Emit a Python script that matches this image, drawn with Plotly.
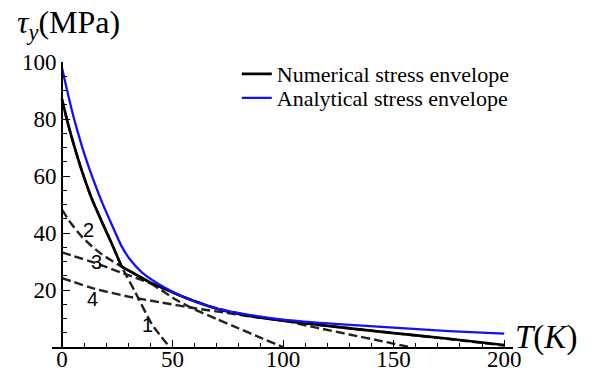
import plotly.graph_objects as go

# ---------------- data ----------------
T1 = [0, 2.5, 5, 7.5, 10, 13.5, 18, 22.5, 27, 33, 40.5, 45, 48.7]
tau1 = [87, 79, 72, 65.5, 59.5, 52, 44, 36.3, 28.2, 19.5, 8.2, 3.5, 0]

T2 = [0, 4, 8.9, 13, 17.9, 22.5, 27, 33, 40, 45, 52, 60, 70, 80, 90, 100]
tau2 = [48.2, 43.5, 38.8, 35.7, 32.6, 30.3, 28.2, 25.6, 22.4, 19.9, 16.4, 13.2, 9.8, 6.5, 3.2, 0]

T3 = [0, 15, 30, 45, 58, 70, 85, 100, 115, 130, 145, 157]
tau3 = [33.2, 29.5, 25.2, 20.9, 16.6, 13.6, 11.0, 9.3, 6.8, 4.4, 2.0, 0]

T4 = [0, 15, 30, 45, 60, 75, 90, 100, 125, 150, 175, 200]
tau4 = [24.2, 20.4, 17.7, 15.6, 13.6, 11.9, 10.2, 9.2, 7.0, 4.9, 2.8, 0.5]

T_num = [0, 2.5, 5, 7.5, 10, 13.5, 18, 22.5, 27, 33, 40, 45, 52, 58.6, 70, 80, 90, 100, 125, 150, 175, 200]
tau_num = [87, 79, 72, 65.5, 59.5, 52, 44, 36.3, 28.2, 25.6, 22.6, 20.9, 18.5, 16.5, 13.4, 11.6,
           10.3, 9.3, 7.0, 4.9, 2.9, 0.7]
kink_index = 8

T_ana = [0, 2.5, 5, 7.5, 10, 14.5, 18, 22.5, 27, 31, 36, 45, 56.5, 70, 80, 100, 125, 150, 175, 200]
tau_ana = [98, 89.5, 81.5, 74.5, 68, 58, 51, 43, 35.3, 30.5, 26.3, 21.5, 17.0, 13.5, 11.9, 9.6, 8.0,
           6.8, 5.6, 4.7]

line_labels = ["1", "2", "3", "4"]
label_T = [38.9, 12.0, 15.7, 13.7]
label_tau = [7.6, 40.9, 30.0, 17.0]

x_ticks = [0, 50, 100, 150, 200]
y_ticks = [20, 40, 60, 80, 100]

legend_names = ["Numerical stress envelope", "Analytical stress envelope"]

# ---------------- figure ----------------
X_RANGE = [-4.5, 204]
Y_RANGE = [0, 100]
SERIF = "Liberation Serif, Times New Roman, serif"
W, H = 592, 377
ML, MR, MT, MB = 52, 79, 62, 30
PW, PH = W - ML - MR, H - MT - MB


def px_to_paper(px, py):
    return (px - ML) / PW, (H - MB - py) / PH


fig = go.Figure()

dash_style = dict(color="#222222", width=2.4, dash="9px,4px", shape="spline", smoothing=0.6)
for Tx, ty in [(T1, tau1), (T2, tau2), (T3, tau3), (T4, tau4)]:
    fig.add_trace(go.Scatter(x=Tx, y=ty, mode="lines", line=dash_style,
                             showlegend=False, hoverinfo="skip"))

# numerical envelope (two smooth pieces joined at the kink)
fig.add_trace(go.Scatter(x=T_num[:kink_index + 1], y=tau_num[:kink_index + 1], mode="lines",
                         line=dict(color="black", width=2.7, shape="spline", smoothing=0.6),
                         name=legend_names[0], legend="legend"))
fig.add_trace(go.Scatter(x=T_num[kink_index:], y=tau_num[kink_index:], mode="lines",
                         line=dict(color="black", width=2.7, shape="spline", smoothing=0.6),
                         showlegend=False))
fig.add_trace(go.Scatter(x=T_ana, y=tau_ana, mode="lines",
                         line=dict(color="#1010ff", width=2.3, shape="spline", smoothing=0.6),
                         name=legend_names[1], legend="legend2"))

for lab, tx, ty in zip(line_labels, label_T, label_tau):
    fig.add_annotation(x=tx, y=ty, text=lab, showarrow=False,
                       font=dict(family="Liberation Sans, Arial, sans-serif", size=20, color="black"))

# axis titles
tx0, ty0 = px_to_paper(15, 24)
fig.add_annotation(xref="paper", yref="paper", x=tx0, y=ty0,
                   xanchor="left", yanchor="middle",
                   text="<i>τ</i><sub><i>y</i></sub>(MPa)", showarrow=False,
                   font=dict(family=SERIF, size=32, color="black"))
tx1, ty1 = px_to_paper(513, 337)
fig.add_annotation(xref="paper", yref="paper", x=tx1, y=ty1,
                   xanchor="left", yanchor="middle",
                   text="<i>T</i>(<i>K</i>)", showarrow=False,
                   font=dict(family=SERIF, size=33, color="black"))

ypos = (0 - X_RANGE[0]) / (X_RANGE[1] - X_RANGE[0])

fig.update_layout(
    width=W, height=H,
    margin=dict(l=ML, r=MR, t=MT, b=MB, autoexpand=False),
    paper_bgcolor="white", plot_bgcolor="white",
    xaxis=dict(range=X_RANGE, domain=[0, 1], automargin=False, showgrid=False, zeroline=False,
               showline=True, linecolor="black",
               linewidth=1.5, ticks="inside", ticklen=7, tickwidth=1.2, tickcolor="black",
               tickvals=x_ticks, ticktext=[str(v) for v in x_ticks], ticklabelstandoff=-9,
               minor=dict(ticks="inside", dtick=10, tick0=0, ticklen=4, tickwidth=1, tickcolor="black"),
               tickfont=dict(family=SERIF, size=23, color="black")),
    yaxis=dict(range=Y_RANGE, automargin=False, showgrid=False, zeroline=False, showline=True,
               linecolor="black",
               linewidth=1.5, anchor="free", position=ypos, autoshift=False,
               ticks="inside", ticklen=7, tickwidth=1.2, tickcolor="black",
               tickvals=y_ticks, ticktext=[str(v) for v in y_ticks], ticklabelstandoff=0,
               minor=dict(ticks="inside", dtick=5, tick0=0, ticklen=4, tickwidth=1, tickcolor="black"),
               tickfont=dict(family=SERIF, size=23, color="black")),
    legend=dict(xref="container", yref="container", x=0.40, y=1 - 74 / 377, xanchor="left",
                yanchor="middle", bgcolor="rgba(0,0,0,0)",
                font=dict(family=SERIF, size=22, color="black")),
    legend2=dict(xref="container", yref="container", x=0.40, y=1 - 98 / 377, xanchor="left",
                 yanchor="middle", bgcolor="rgba(0,0,0,0)",
                 font=dict(family=SERIF, size=22, color="black")),
)

fig.write_html("out.html")
